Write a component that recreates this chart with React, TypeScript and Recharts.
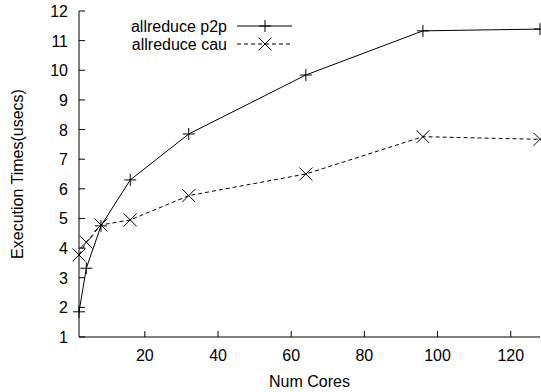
import { LineChart, Line, XAxis, YAxis, Legend } from "recharts"

const cores = [2, 4, 8, 16, 32, 64, 96, 128]
const p2p = [1.85, 3.32, 4.75, 6.3, 7.85, 9.84, 11.33, 11.39]
const cau = [3.77, 4.2, 4.78, 4.95, 5.77, 6.5, 7.76, 7.67]
const xTicks = [20, 40, 60, 80, 100, 120]
const yTicks = [1, 2, 3, 4, 5, 6, 7, 8, 9, 10, 11, 12]

const data = cores.map((c, i) => ({ cores: c, p2p: p2p[i], cau: cau[i] }))

const FONT = "'Liberation Sans', Arial, sans-serif"
const TICK = 6

const PlusMark = ({ cx, cy, size = 6 }: { cx?: number; cy?: number; size?: number }) => {
  if (cx == null || cy == null) return null
  return (
    <g stroke="#000" strokeWidth={1}>
      <line x1={cx - size} y1={cy} x2={cx + size} y2={cy} />
      <line x1={cx} y1={cy - size} x2={cx} y2={cy + size} />
    </g>
  )
}

const CrossMark = ({ cx, cy, size = 6.5 }: { cx?: number; cy?: number; size?: number }) => {
  if (cx == null || cy == null) return null
  return (
    <g stroke="#000" strokeWidth={1}>
      <line x1={cx - size} y1={cy - size} x2={cx + size} y2={cy + size} />
      <line x1={cx - size} y1={cy + size} x2={cx + size} y2={cy - size} />
    </g>
  )
}

const BottomTick = (props: any) => {
  const { x, y, payload } = props
  return (
    <g>
      <line x1={x} y1={y} x2={x} y2={y - TICK} stroke="#000" />
      <text x={x} y={y + 24} textAnchor="middle" fontSize={16} fontFamily={FONT} fill="#000">
        {payload.value}
      </text>
    </g>
  )
}

const TopTick = (props: any) => {
  const { x, y } = props
  return <line x1={x} y1={y} x2={x} y2={y + TICK} stroke="#000" />
}

const LeftTick = (props: any) => {
  const { x, y, payload } = props
  return (
    <g>
      <line x1={x} y1={y} x2={x + TICK} y2={y} stroke="#000" />
      <text x={x - 11} y={y + 6} textAnchor="end" fontSize={16} fontFamily={FONT} fill="#000">
        {payload.value}
      </text>
    </g>
  )
}

const RightTick = (props: any) => {
  const { x, y } = props
  return <line x1={x} y1={y} x2={x - TICK} y2={y} stroke="#000" />
}

const LegendBox = () => {
  const rows = [
    { name: "allreduce p2p", dash: undefined, mark: "plus" },
    { name: "allreduce cau", dash: "4 3", mark: "cross" },
  ]
  return (
    <svg width={300} height={40} style={{ display: "block" }}>
      {rows.map((r, i) => {
        const y = 8 + i * 18
        return (
          <g key={r.name}>
            <text x={185} y={y + 6} textAnchor="end" fontSize={16} fontFamily={FONT} fill="#000">
              {r.name}
            </text>
            <line x1={195} y1={y} x2={250} y2={y} stroke="#000" strokeDasharray={r.dash} />
            {r.mark === "plus" ? <PlusMark cx={223} cy={y} /> : <CrossMark cx={223} cy={y} />}
          </g>
        )
      })}
    </svg>
  )
}

export default function App() {
  return (
    <div style={{ position: "absolute", left: 0, top: 0, background: "#fff" }}>
      <LineChart width={541} height={392} data={data} margin={{ top: 11, right: 1, bottom: 0, left: 0 }}>
        <XAxis
          xAxisId="b"
          dataKey="cores"
          type="number"
          domain={[2, 128]}
          ticks={xTicks}
          height={55}
          tickSize={0}
          tickMargin={0}
          tick={<BottomTick />}
          axisLine={{ stroke: "#000" }}
          label={{
            content: (p: any) => {
              const vb = p.viewBox
              return (
                <text x={vb.x + vb.width / 2} y={vb.y + 50} textAnchor="middle" fontSize={16} fontFamily={FONT} fill="#000">
                  Num Cores
                </text>
              )
            },
          }}
        />
        <XAxis
          xAxisId="t"
          orientation="top"
          dataKey="cores"
          type="number"
          domain={[2, 128]}
          ticks={xTicks}
          height={0}
          tickSize={0}
          tickMargin={0}
          tick={<TopTick />}
          axisLine={{ stroke: "#000" }}
        />
        <YAxis
          yAxisId="l"
          type="number"
          domain={[1, 12]}
          ticks={yTicks}
          width={79}
          tickSize={0}
          tickMargin={0}
          tick={<LeftTick />}
          axisLine={{ stroke: "#000" }}
          label={{
            content: (p: any) => {
              const vb = p.viewBox
              const cx = vb.x + 17
              const cy = vb.y + vb.height / 2
              return (
                <text x={cx} y={cy} transform={`rotate(-90 ${cx} ${cy})`} textAnchor="middle" dominantBaseline="central" fontSize={16} fontFamily={FONT} fill="#000">
                  Execution Times(usecs)
                </text>
              )
            },
          }}
        />
        <YAxis
          yAxisId="r"
          orientation="right"
          type="number"
          domain={[1, 12]}
          ticks={yTicks}
          width={0}
          tickSize={0}
          tickMargin={0}
          tick={<RightTick />}
          axisLine={{ stroke: "#000" }}
        />
        <Legend
          layout="horizontal"
          verticalAlign="middle"
          content={() => <LegendBox />}
          wrapperStyle={{ position: "absolute", top: 18, left: 42, width: 300 }}
        />
        <Line
          xAxisId="b"
          yAxisId="l"
          dataKey="p2p"
          name="allreduce p2p"
          stroke="#000"
          strokeWidth={1}
          dot={(p: any) => <PlusMark key={`p-${p.index}`} cx={p.cx} cy={p.cy} />}
          activeDot={false}
          isAnimationActive={false}
        />
        <Line
          xAxisId="b"
          yAxisId="l"
          dataKey="cau"
          name="allreduce cau"
          stroke="#000"
          strokeWidth={1}
          strokeDasharray="4 3"
          dot={(p: any) => <CrossMark key={`c-${p.index}`} cx={p.cx} cy={p.cy} />}
          activeDot={false}
          isAnimationActive={false}
        />
      </LineChart>
    </div>
  )
}
